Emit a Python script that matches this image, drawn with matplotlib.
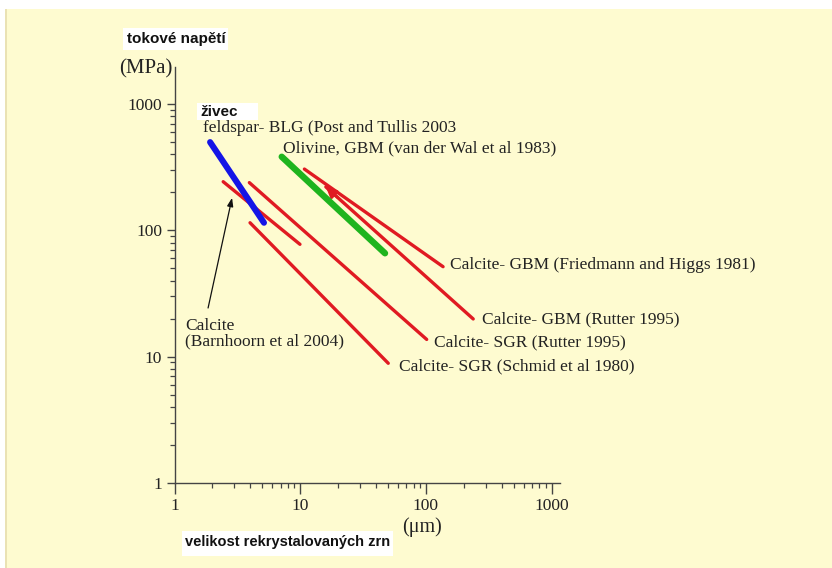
import numpy as np
import matplotlib
matplotlib.use("Agg")
import matplotlib.pyplot as plt
from matplotlib.patches import Rectangle
from matplotlib.ticker import LogLocator, FixedLocator, NullFormatter

# Piezometer lines: grain size (um) vs flow stress (MPa), end points of each segment
feldspar_blg = {"x": [1.92, 5.15], "y": [500, 115]}
olivine_gbm = {"x": [7.13, 47.3], "y": [383, 65.9]}
calcite_barnhoorn = {"x": [2.44, 9.96], "y": [243, 77.6]}
calcite_sgr_rutter = {"x": [3.94, 101.5], "y": [239, 13.7]}
calcite_sgr_schmid = {"x": [3.99, 50.2], "y": [115, 8.87]}
calcite_gbm_friedmann = {"x": [10.8, 137], "y": [306, 51.6]}
calcite_gbm_rutter = {"x": [16.0, 238], "y": [221, 19.9]}

x_ticks = [1, 10, 100, 1000]
x_tick_labels = ["1", "10", "100", "1000"]
y_ticks = [1, 10, 100, 1000]
y_tick_labels = ["1", "10", "100", "1000"]

BG = "#FEFBD0"
RED = "#E01A22"
BLUE = "#1414E6"
GREEN = "#1EB41E"
INK = "#222222"
SERIF = ["Liberation Serif", "DejaVu Serif"]
SANS = ["Liberation Sans", "DejaVu Sans"]

W, H = 832, 568
fig = plt.figure(figsize=(W / 100, H / 100), dpi=100, facecolor="white")


def px_rect(x0, y0, x1, y1, color, z):
    """Rectangle given in pixel coordinates measured from the top-left corner."""
    fig.patches.append(Rectangle((x0 / W, 1 - y1 / H), (x1 - x0) / W, (y1 - y0) / H,
                                 transform=fig.transFigure, facecolor=color,
                                 edgecolor="none", zorder=z))


# cream page with a thin tan edge on the left
px_rect(5, 9, W, H, BG, -3)
px_rect(5, 9, 7, H, "#EAE2B4", -2)

ax_left, ax_right, ax_bottom, ax_top = 174.5, 560, 483, 67
ax = fig.add_axes([ax_left / W, (H - ax_bottom) / H,
                   (ax_right - ax_left) / W, (ax_bottom - ax_top) / H])
ax.set_facecolor("none")
ax.set_xscale("log")
ax.set_yscale("log")
ax.set_xlim(1, 1167)
ax.set_ylim(1, 1967)

for s in ["top", "right"]:
    ax.spines[s].set_visible(False)
for s in ["left", "bottom"]:
    ax.spines[s].set_color("#444444")
    ax.spines[s].set_linewidth(1.0)

ax.xaxis.set_major_locator(FixedLocator(x_ticks))
ax.set_xticklabels(x_tick_labels)
ax.yaxis.set_major_locator(FixedLocator(y_ticks))
ax.set_yticklabels(y_tick_labels)
ax.xaxis.set_minor_locator(LogLocator(base=10, subs=range(2, 10)))
ax.yaxis.set_minor_locator(LogLocator(base=10, subs=range(2, 10)))
ax.xaxis.set_minor_formatter(NullFormatter())
ax.yaxis.set_minor_formatter(NullFormatter())
ax.tick_params(axis="x", which="major", direction="out", length=8, width=1.0,
               color="#444444", pad=3)
ax.tick_params(axis="y", which="major", direction="out", length=6, width=1.0,
               color="#444444", pad=3)
ax.tick_params(which="minor", direction="out", length=3.5, width=0.9, color="#444444")
for lab in ax.get_xticklabels() + ax.get_yticklabels():
    lab.set_fontfamily(SERIF)
    lab.set_fontsize(12.5)
    lab.set_color(INK)

# piezometer segments
for d in [calcite_barnhoorn, calcite_sgr_rutter, calcite_sgr_schmid,
          calcite_gbm_friedmann, calcite_gbm_rutter]:
    ax.plot(d["x"], d["y"], color=RED, lw=2.4, solid_capstyle="round", zorder=3)
ax.plot(olivine_gbm["x"], olivine_gbm["y"], color=GREEN, lw=4.6,
        solid_capstyle="round", zorder=4)
ax.plot(feldspar_blg["x"], feldspar_blg["y"], color=BLUE, lw=4.4,
        solid_capstyle="round", zorder=5)

# small red arrow head at the upper end of the Rutter GBM segment
lx = np.log10(calcite_gbm_rutter["x"])
ly = np.log10(calcite_gbm_rutter["y"])
tail = (10 ** (lx[0] + 0.08 * (lx[1] - lx[0])), 10 ** (ly[0] + 0.08 * (ly[1] - ly[0])))
ax.annotate("", xy=(calcite_gbm_rutter["x"][0], calcite_gbm_rutter["y"][0]), xytext=tail,
            arrowprops=dict(arrowstyle="-|>,head_length=0.6,head_width=0.3",
                            color=RED, lw=2.0, shrinkA=0, shrinkB=0), zorder=3)

# line labels
tk = dict(family=SERIF, fontsize=12.5, color=INK, va="center", ha="left",
          clip_on=False, zorder=6)
ax.text(1.685, 647, "feldspar- BLG (Post and Tullis 2003", **tk)
ax.text(7.30, 449, "Olivine, GBM (van der Wal et al 1983)", **tk)
ax.text(155, 53.2, "Calcite- GBM (Friedmann and Higgs 1981)", **tk)
ax.text(279, 19.9, "Calcite- GBM (Rutter 1995)", **tk)
ax.text(116, 13.1, "Calcite- SGR (Rutter 1995)", **tk)
ax.text(61.1, 8.44, "Calcite- SGR (Schmid et al 1980)", **tk)
ax.text(1.21, 15.2, "Calcite\n(Barnhoorn et al 2004)", linespacing=0.95, **tk)

ax.annotate("", xy=(2.87, 181), xytext=(1.85, 24.3),
            arrowprops=dict(arrowstyle="-|>,head_length=0.5,head_width=0.18",
                            color="#111111", lw=0.9, shrinkA=0, shrinkB=0),
            zorder=6)

# bold sans captions on white patches
px_rect(197, 103, 258, 120, "white", -1)
fig.text(200 / W, 1 - 111.5 / H, "živec", family=SANS, fontsize=11, fontweight="bold",
         color="#111111", ha="left", va="center")

px_rect(123, 28, 228, 50, "white", -1)
fig.text(127 / W, 1 - 39 / H, "tokové napětí", family=SANS, fontsize=11,
         fontweight="bold", color="#111111", ha="left", va="center")

px_rect(182, 531, 393, 556, "white", -1)
fig.text(185 / W, 1 - 542 / H, "velikost rekrystalovaných zrn", family=SANS,
         fontsize=10.5, fontweight="bold", color="#111111", ha="left", va="center")

# unit labels
fig.text(172 / W, 1 - 69 / H, "(MPa)", family=SERIF, fontsize=15, color=INK,
         ha="right", va="center")
fig.text(422 / W, 1 - 527 / H, "(μm)", family=SERIF, fontsize=14.5, color=INK,
         ha="center", va="center")

fig.savefig("out.png", dpi=100, facecolor="white")
